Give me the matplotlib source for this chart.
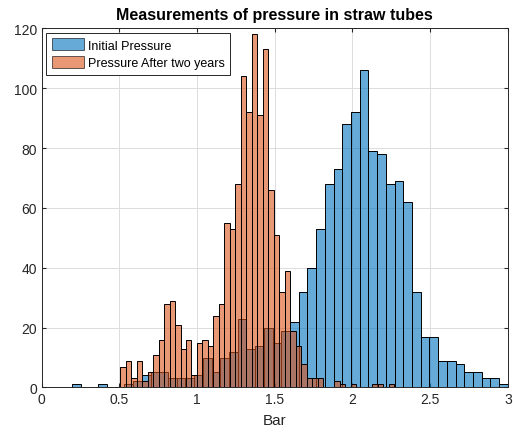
import numpy as np
import matplotlib
matplotlib.use('Agg')
import matplotlib.pyplot as plt

# histogram counts (50 bins each)
init_range = (0.196, 3.0)
init_counts = [1, 0, 0, 1, 0, 0, 1, 2, 4, 5,
               5, 3, 3, 3, 4, 10, 5, 10, 12, 23,
               13, 14, 20, 15, 19, 22, 32, 40, 53, 68,
               73, 88, 92, 106, 79, 78, 68, 69, 62, 32,
               17, 17, 9, 9, 8, 5, 5, 3, 3, 1]

after_range = (0.505, 2.27)
after_counts = [7, 9, 3, 9, 2, 5, 11, 16, 28, 29,
                21, 13, 16, 4, 15, 16, 14, 24, 28, 55,
                53, 68, 104, 92, 118, 91, 113, 66, 51, 32,
                39, 19, 14, 8, 3, 3, 3, 0, 0, 2,
                1, 0, 1, 0, 0, 0, 1, 1, 0, 1]

labels = ['Initial Pressure', 'Pressure After two years']
xticks = [0, 0.5, 1, 1.5, 2, 2.5, 3]
xticklabels = ['0', '0.5', '1', '1.5', '2', '2.5', '3']
yticks = [0, 20, 40, 60, 80, 100, 120]

plt.rcParams['font.family'] = ['Liberation Sans', 'DejaVu Sans']

fig = plt.figure(figsize=(5.13, 4.35), dpi=100)
ax = fig.add_axes([0.0813, 0.107, 0.9087, 0.8257])

cols = [(0, 0.447, 0.741), (0.85, 0.325, 0.098)]
for rng, cnts, col, lab in [(init_range, init_counts, cols[0], labels[0]),
                            (after_range, after_counts, cols[1], labels[1])]:
    edges = np.linspace(rng[0], rng[1], len(cnts) + 1)
    ax.bar(edges[:-1], cnts, width=np.diff(edges), align='edge',
           color=col, alpha=0.6, edgecolor='none', label=lab)
    ax.bar(edges[:-1], cnts, width=np.diff(edges), align='edge',
           fill=False, edgecolor='black', linewidth=0.7)

ax.set_xlim(0, 3)
ax.set_ylim(0, 120)
ax.set_xticks(xticks)
ax.set_xticklabels(xticklabels)
ax.set_yticks(yticks)
ax.grid(True, color='#dcdcdc', linewidth=0.7)
ax.set_axisbelow(True)
ax.tick_params(direction='in', top=True, right=True, labelsize=10,
               colors='#262626', length=3)
for sp in ax.spines.values():
    sp.set_color('#262626')
    sp.set_linewidth(0.7)

ax.set_title('Measurements of pressure in straw tubes', fontsize=11.5,
             fontweight='bold', pad=7)
ax.set_xlabel('Bar', fontsize=11, color='#262626', labelpad=5)

leg = ax.legend(loc='upper left', fontsize=9, fancybox=False,
                edgecolor='#262626', framealpha=1, borderpad=0.45,
                handlelength=2.6, handleheight=1.1, handletextpad=0.3,
                labelspacing=0.35, borderaxespad=0.35)
leg.get_frame().set_linewidth(0.7)
for h in leg.legend_handles:
    h.set_edgecolor('black')
    h.set_linewidth(0.7)

fig.savefig('out.png', dpi=100)
